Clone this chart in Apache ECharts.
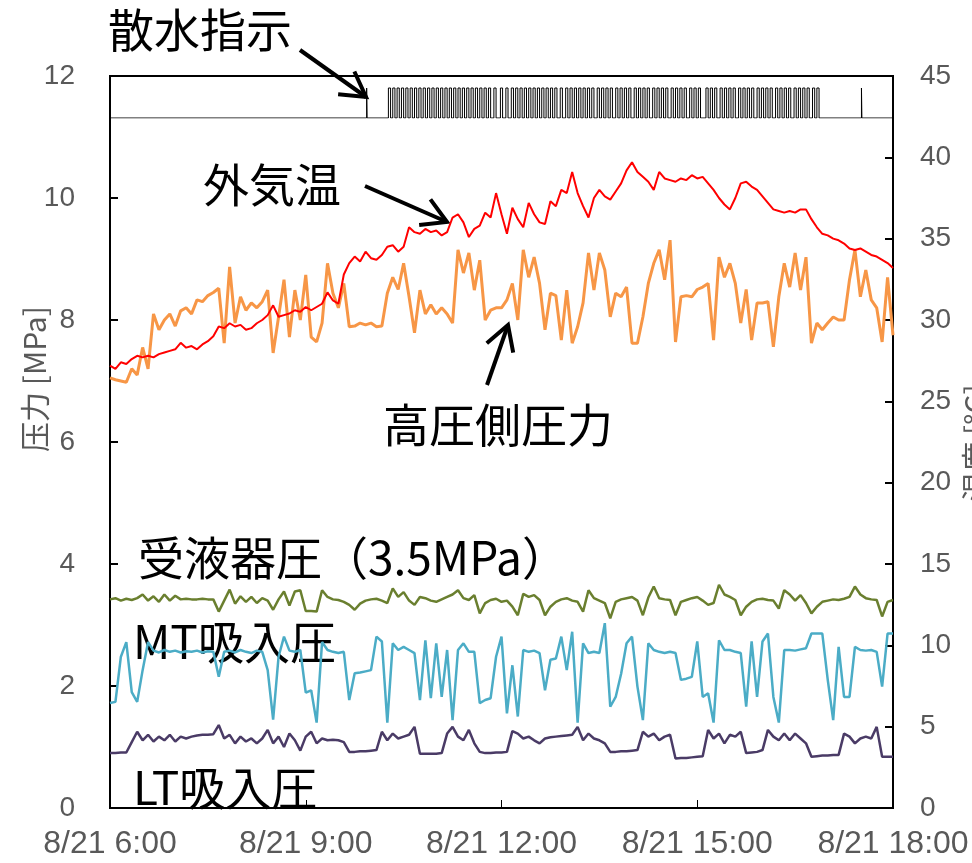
<!DOCTYPE html>
<html>
<head>
<meta charset="utf-8">
<title>散水指示と圧力・外気温</title>
<script src="https://cdn.jsdelivr.net/npm/echarts@6/dist/echarts.min.js"></script>
<style>
  html, body { margin: 0; padding: 0; background: #fff; }
  #chart { width: 972px; height: 863px; }
</style>
</head>
<body>
<div id="chart"></div>
<script>
// 8/21 6:00 から 5 分ごとのサンプル (0..720 分)
var stepMin = 5;
var xTicks = ['8/21 6:00', '8/21 9:00', '8/21 12:00', '8/21 15:00', '8/21 18:00'];

// 外気温 [°C]
var outdoorTemp = [
  27.2, 27.0, 27.4, 27.3, 27.6, 27.8, 27.7, 27.8, 27.7, 27.9,
  28.0, 28.1, 28.2, 28.6, 28.3, 28.4, 28.2, 28.5, 28.7, 29.0,
  29.6, 29.5, 29.8, 29.6, 29.7, 29.4, 29.5, 29.8, 30.0, 30.3,
  30.9, 30.2, 30.3, 30.4, 30.6, 30.5, 30.8, 30.6, 30.8, 31.0,
  31.7, 31.2, 31.0, 32.8, 33.5, 33.9, 33.6, 34.2, 33.8, 33.7,
  34.0, 34.5, 34.6, 34.2, 34.5, 35.7, 35.4, 35.3, 35.6, 35.4,
  35.5, 35.2, 35.4, 36.3, 36.5, 36.0, 35.1, 35.6, 35.8, 36.6,
  36.3, 37.8, 36.5, 35.3, 36.9, 36.2, 35.7, 37.2, 36.5, 36.0,
  35.9, 37.3, 37.0, 38.0, 37.8, 39.1, 37.8, 37.0, 36.3, 37.5,
  38.0, 37.6, 37.4, 37.9, 38.4, 39.2, 39.7, 39.1, 38.8, 38.5,
  38.0, 39.1, 38.7, 38.6, 38.5, 38.7, 38.6, 38.9, 38.7, 38.8,
  38.4, 38.0, 37.5, 37.1, 36.8, 37.5, 38.4, 38.5, 38.2, 38.0,
  37.6, 37.2, 36.8, 36.7, 36.6, 36.7, 36.6, 36.8, 36.8, 36.2,
  35.7, 35.3, 35.2, 35.0, 34.9, 34.7, 34.4, 34.3, 34.4, 34.2,
  34.0, 33.9, 33.7, 33.5, 33.2
];

// 高圧側圧力 [MPa]
var highPress = [
  7.05, 7.02, 7.00, 6.98, 7.20, 7.10, 7.55, 7.20, 8.10, 7.84,
  8.00, 8.10, 7.90, 8.15, 8.20, 8.10, 8.33, 8.30, 8.40, 8.45,
  8.52, 7.62, 8.87, 7.95, 8.38, 8.16, 8.28, 8.20, 8.30, 8.49,
  7.46, 8.05, 8.66, 7.72, 8.49, 8.00, 8.74, 7.72, 7.64, 7.95,
  8.93, 8.44, 8.20, 8.60, 7.89, 7.90, 7.95, 7.92, 7.95, 7.89,
  7.90, 8.44, 8.70, 8.50, 8.93, 8.38, 7.79, 8.49, 8.10, 8.25,
  8.10, 8.20, 8.10, 7.95, 9.15, 8.77, 9.10, 8.49, 8.98, 8.00,
  8.16, 8.20, 8.20, 8.33, 8.60, 8.00, 9.15, 8.70, 9.03, 8.60,
  7.84, 8.44, 8.40, 7.67, 8.49, 7.62, 7.89, 8.28, 9.10, 8.49,
  9.10, 8.82, 8.05, 8.44, 8.38, 8.54, 7.62, 7.62, 8.05, 8.60,
  8.93, 9.15, 8.66, 9.31, 7.64, 8.38, 8.40, 8.38, 8.50, 8.54,
  8.60, 7.67, 9.03, 8.70, 8.93, 8.60, 7.95, 8.50, 7.67, 8.28,
  8.28, 8.30, 7.56, 8.38, 8.93, 8.54, 9.10, 8.49, 9.03, 7.62,
  7.95, 7.84, 7.95, 8.05, 8.00, 8.00, 8.66, 9.15, 8.38, 8.82,
  8.33, 8.20, 7.64, 8.70, 7.75
];

// 受液器圧 [MPa]
var receiverPress = [
  3.42, 3.44, 3.40, 3.43, 3.41, 3.44, 3.50, 3.40, 3.47, 3.38,
  3.50, 3.40, 3.48, 3.42, 3.43, 3.42, 3.42, 3.43, 3.42, 3.42,
  3.22, 3.40, 3.58, 3.35, 3.47, 3.38, 3.46, 3.36, 3.44, 3.40,
  3.25, 3.42, 3.55, 3.32, 3.55, 3.57, 3.23, 3.23, 3.22, 3.57,
  3.46, 3.42, 3.41, 3.38, 3.33, 3.25, 3.35, 3.40, 3.42, 3.43,
  3.40, 3.36, 3.60, 3.46, 3.54, 3.40, 3.33, 3.46, 3.44, 3.40,
  3.38, 3.42, 3.46, 3.50, 3.57, 3.44, 3.41, 3.49, 3.19, 3.36,
  3.41, 3.43, 3.38, 3.40, 3.30, 3.16, 3.51, 3.46, 3.49, 3.41,
  3.16, 3.30, 3.38, 3.42, 3.44, 3.40, 3.38, 3.22, 3.57, 3.44,
  3.40, 3.36, 3.11, 3.38, 3.42, 3.44, 3.46, 3.40, 3.16, 3.45,
  3.63, 3.44, 3.42, 3.41, 3.16, 3.38, 3.41, 3.44, 3.46, 3.40,
  3.33, 3.36, 3.66, 3.50, 3.46, 3.41, 3.16, 3.30, 3.38, 3.42,
  3.43, 3.41, 3.40, 3.27, 3.57, 3.50, 3.40, 3.49, 3.36, 3.19,
  3.30, 3.38, 3.40, 3.42, 3.41, 3.43, 3.46, 3.63, 3.50, 3.44,
  3.42, 3.41, 3.14, 3.38, 3.41
];

// MT吸入圧 [MPa]
var mtSuction = [
  1.72, 1.74, 2.48, 2.72, 1.90, 1.74, 2.26, 2.72, 2.58, 2.55,
  2.59, 2.56, 2.58, 2.55, 2.57, 2.56, 2.58, 2.55, 2.57, 2.56,
  2.15, 2.56, 2.58, 2.55, 2.59, 2.56, 2.54, 2.58, 2.56, 2.26,
  1.45, 2.48, 2.81, 2.58, 2.56, 2.59, 1.89, 1.93, 1.40, 2.72,
  2.59, 2.56, 2.54, 2.56, 1.77, 2.21, 2.22, 2.24, 2.26, 2.81,
  2.73, 1.40, 2.70, 2.59, 2.64, 2.59, 2.54, 1.77, 2.75, 1.80,
  2.70, 1.82, 2.59, 1.44, 2.59, 2.70, 2.56, 2.56, 1.72, 1.77,
  1.80, 2.48, 2.81, 1.55, 2.34, 1.50, 2.59, 2.56, 2.58, 2.54,
  1.93, 2.43, 2.45, 2.81, 2.26, 2.89, 1.40, 2.70, 2.54, 2.56,
  2.54, 3.03, 1.66, 1.82, 2.20, 2.70, 2.81, 1.99, 1.44, 2.70,
  2.59, 2.56, 2.54, 2.56, 2.54, 2.10, 2.12, 2.15, 2.73, 1.82,
  1.88, 1.40, 2.75, 2.59, 2.59, 2.56, 2.54, 1.66, 2.73, 1.82,
  2.73, 2.86, 1.82, 1.40, 2.59, 2.59, 2.58, 2.60, 2.62, 2.86,
  2.86, 2.86, 2.10, 1.44, 2.64, 1.82, 1.82, 2.64, 2.59, 2.58,
  2.59, 2.56, 1.99, 2.86, 2.86
];

// LT吸入圧 [MPa]
var ltSuction = [
  0.90, 0.90, 0.91, 0.91, 1.08, 1.25, 1.11, 1.20, 1.09, 1.17,
  1.11, 1.20, 1.09, 1.17, 1.14, 1.17, 1.19, 1.20, 1.20, 1.21,
  1.36, 1.14, 1.20, 1.06, 1.17, 1.09, 1.14, 1.06, 1.14, 1.28,
  1.06, 1.17, 1.00, 1.22, 1.11, 0.94, 1.17, 1.25, 1.06, 1.14,
  1.11, 1.12, 1.11, 1.08, 0.92, 0.92, 0.93, 0.93, 0.94, 0.95,
  1.25, 1.11, 1.22, 1.14, 1.17, 1.20, 1.33, 0.89, 0.89, 0.89,
  0.89, 0.90, 1.22, 1.33, 1.17, 1.11, 1.28, 1.06, 0.92, 0.90,
  0.90, 0.91, 0.91, 0.92, 1.26, 1.22, 1.14, 1.17, 1.11, 1.06,
  1.14, 1.16, 1.17, 1.18, 1.19, 1.20, 1.33, 1.11, 1.22, 1.14,
  1.11, 1.06, 0.92, 0.92, 0.93, 0.93, 0.94, 0.95, 1.25, 1.17,
  1.22, 1.11, 1.17, 1.20, 0.81, 0.82, 0.82, 0.83, 0.84, 0.85,
  1.28, 1.14, 1.22, 1.06, 1.20, 1.17, 1.25, 0.90, 0.91, 0.92,
  0.95, 1.28, 1.17, 1.11, 1.22, 1.11, 1.22, 1.14, 1.06, 0.84,
  0.85, 0.86, 0.86, 0.87, 0.87, 1.22, 1.17, 1.06, 1.14, 1.17,
  1.14, 1.33, 0.84, 0.84, 0.84
];

// 散水指示 ON 開始 [分, 6:00 起点]
var sprayStart = [
  256, 260, 264, 268, 272, 276, 280, 284, 288, 292, 296, 300, 304, 308, 312,
  316, 320, 324, 328, 332, 336, 340, 344, 348, 353, 359, 364, 369, 373, 377,
  381, 385, 389, 393, 397, 401, 405, 409, 414, 419, 423, 427, 431, 435, 439,
  443, 448, 452, 456, 460, 465, 469, 473, 477, 482, 486, 490, 494, 499, 503,
  507, 511, 516, 520, 524, 528, 533, 537, 541, 548, 552, 556, 561, 565, 569,
  573, 578, 582, 586, 590, 595, 599, 603, 607, 612, 616, 620, 624, 629, 633,
  637, 641, 646, 650
];
var sprayDur = 2;
var spraySingle = [236, 691];
var spraySingleDur = 0.4;

function pairs(arr) {
  return arr.map(function (v, i) { return [i * stepMin, v]; });
}

function sprayData() {
  var on = [];
  spraySingle.forEach(function (t) { on.push([t, t + spraySingleDur]); });
  sprayStart.forEach(function (t) { on.push([t, t + sprayDur]); });
  on.sort(function (a, b) { return a[0] - b[0]; });
  var d = [[0, 0]];
  on.forEach(function (p) {
    d.push([p[0], 0], [p[0], 1], [p[1], 1], [p[1], 0]);
  });
  d.push([720, 0]);
  return d;
}

var gray = '#595959';
var jp = '"Noto Sans CJK JP", "Noto Sans CJK SC", sans-serif';
var numFont = '"Liberation Sans", Arial, sans-serif';

function arrow(x1, y1, x2, y2) {
  var a = Math.atan2(y2 - y1, x2 - x1);
  var L = 28, s = Math.PI / 6;
  var b1 = [x2 - L * Math.cos(a - s), y2 - L * Math.sin(a - s)];
  var b2 = [x2 - L * Math.cos(a + s), y2 - L * Math.sin(a + s)];
  return [
    { type: 'polyline', shape: { points: [[x1, y1], [x2, y2]] }, style: { stroke: '#000', lineWidth: 4, fill: null } },
    { type: 'polyline', shape: { points: [b1, [x2, y2], b2] }, style: { stroke: '#000', lineWidth: 4, fill: null } }
  ];
}

function label(text, x, y) {
  return {
    type: 'text',
    style: { text: text, x: x, y: y, fill: '#000', font: '46px ' + jp, textVerticalAlign: 'middle', verticalAlign: 'middle' }
  };
}

var chart = echarts.init(document.getElementById('chart'));

var option = {
  animation: false,
  backgroundColor: '#fff',
  grid: [
    { left: 110, right: 79, top: 76, bottom: 55, show: true, borderColor: '#000', borderWidth: 2 },
    { left: 110, right: 79, top: 76, height: 42, show: false }
  ],
  xAxis: [
    {
      type: 'value', gridIndex: 0, min: 0, max: 720, interval: 180,
      axisLine: { show: true, lineStyle: { color: '#000', width: 2 } },
      axisTick: { show: true, inside: true, length: 8, lineStyle: { color: '#000', width: 1 } },
      splitLine: { show: false },
      axisLabel: {
        color: gray, fontSize: 32, fontFamily: '"Liberation Sans Narrow", ' + numFont, margin: 20,
        formatter: function (v) { return xTicks[v / 180]; }
      }
    },
    { type: 'value', gridIndex: 1, min: 0, max: 720, show: false }
  ],
  yAxis: [
    {
      type: 'value', gridIndex: 0, min: 0, max: 12, interval: 2, position: 'left',
      axisLine: { show: true, lineStyle: { color: '#000', width: 2 } },
      axisTick: { show: true, inside: true, length: 8, lineStyle: { color: '#000', width: 2 } },
      splitLine: { show: false },
      axisLabel: { color: gray, fontSize: 28, fontFamily: numFont, margin: 35 }
    },
    {
      type: 'value', gridIndex: 0, min: 0, max: 45, interval: 5, position: 'right',
      axisLine: { show: true, lineStyle: { color: '#000', width: 2 } },
      axisTick: { show: true, inside: true, length: 8, lineStyle: { color: '#000', width: 2 } },
      splitLine: { show: false },
      axisLabel: { color: gray, fontSize: 28, fontFamily: numFont, margin: 27 }
    },
    { type: 'value', gridIndex: 1, min: 0, max: 1.4, show: false }
  ],
  series: [
    {
      name: '高圧側圧力', type: 'line', xAxisIndex: 0, yAxisIndex: 0, data: pairs(highPress),
      showSymbol: false, lineStyle: { color: '#F79646', width: 3 }, itemStyle: { color: '#F79646' }
    },
    {
      name: '外気温', type: 'line', xAxisIndex: 0, yAxisIndex: 1, data: pairs(outdoorTemp),
      showSymbol: false, lineStyle: { color: '#FF0000', width: 2 }, itemStyle: { color: '#FF0000' }
    },
    {
      name: '受液器圧', type: 'line', xAxisIndex: 0, yAxisIndex: 0, data: pairs(receiverPress),
      showSymbol: false, lineStyle: { color: '#6A7F2F', width: 2.5 }, itemStyle: { color: '#6A7F2F' }
    },
    {
      name: 'MT吸入圧', type: 'line', xAxisIndex: 0, yAxisIndex: 0, data: pairs(mtSuction),
      showSymbol: false, lineStyle: { color: '#4BACC6', width: 2.5 }, itemStyle: { color: '#4BACC6' }
    },
    {
      name: 'LT吸入圧', type: 'line', xAxisIndex: 0, yAxisIndex: 0, data: pairs(ltSuction),
      showSymbol: false, lineStyle: { color: '#4A3B66', width: 2.5 }, itemStyle: { color: '#4A3B66' }
    },
    {
      name: '散水指示', type: 'line', xAxisIndex: 1, yAxisIndex: 2, data: sprayData(),
      showSymbol: false, lineStyle: { color: '#000', width: 1 }, itemStyle: { color: '#000' }
    }
  ],
  graphic: [
    {
      type: 'text', x: 35, y: 379, rotation: Math.PI / 2,
      style: { text: '压力 [MPa]', fill: gray, font: '30px ' + jp, textAlign: 'center', align: 'center', textVerticalAlign: 'middle', verticalAlign: 'middle' }
    },
    {
      type: 'text', x: 976, y: 443, rotation: Math.PI / 2,
      style: { text: '温度 [°C]', fill: gray, font: '30px ' + jp, textAlign: 'center', align: 'center', textVerticalAlign: 'middle', verticalAlign: 'middle' }
    },
    label('散水指示', 108, 30),
    label('外気温', 203, 185),
    label('高圧側圧力', 383, 425),
    label('受液器圧（3.5MPa）', 138, 558),
    label('MT吸入圧', 133, 642),
    label('LT吸入圧', 133, 788)
  ].concat(arrow(300, 50, 366, 97), arrow(365, 186, 447, 222), arrow(487, 385, 508, 325))
};

chart.setOption(option);
</script>
</body>
</html>
